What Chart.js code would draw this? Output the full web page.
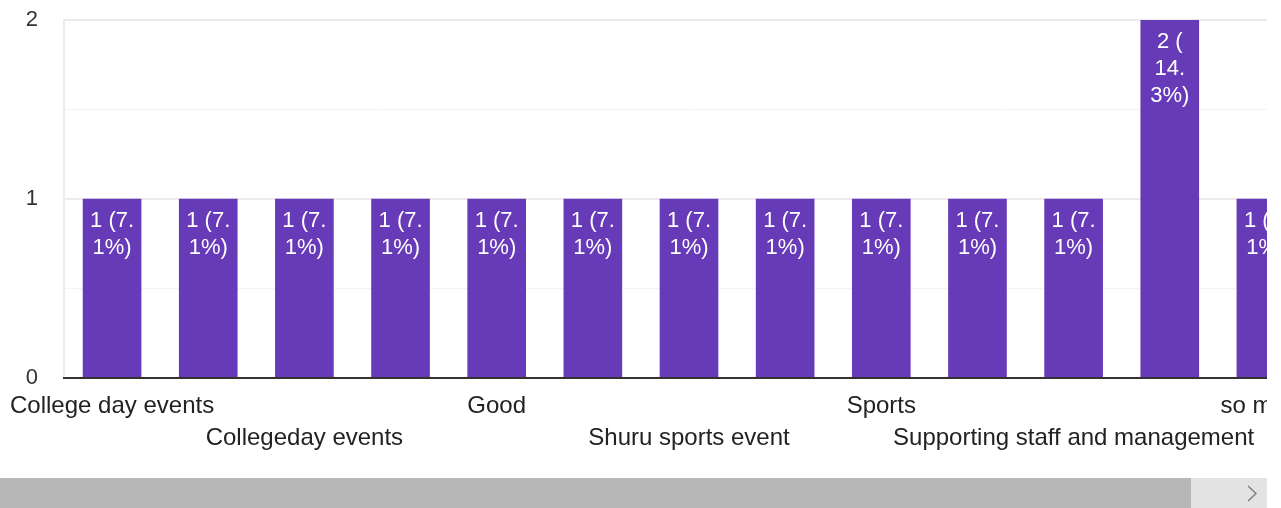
<!DOCTYPE html>
<html>
<head>
<meta charset="utf-8">
<script src="https://cdn.jsdelivr.net/npm/chart.js@4/dist/chart.umd.min.js"></script>
<style>
  html, body { margin: 0; padding: 0; background: #fff; }
  #wrap { position: absolute; left: 0; top: 0; width: 1267px; height: 478px; overflow: hidden; }
  #scroll { position: absolute; left: 0; top: 478px; width: 1267px; height: 30px; background: #e3e3e3; }
  #thumb { position: absolute; left: 0; top: 0; width: 1191px; height: 30px; background: #b7b7b7; }
  #arrow { position: absolute; left: 1245px; top: 7px; }
</style>
</head>
<body>
<div id="wrap"><canvas id="myChart" width="1330" height="478"></canvas></div>
<div id="scroll"><div id="thumb"></div>
  <svg id="arrow" width="14" height="18"><polyline points="3,1 11,8.5 3,16" fill="none" stroke="#7a7a7a" stroke-width="1.3"/></svg>
</div>
<script>
// categories (alphabetical, as in the form summary); odd ones are hidden by the axis
const categories = [
  'College day events', 'College events', 'Collegeday events', 'Fests',
  'Good', 'Nice', 'Shuru sports event', 'Shuru sports fest',
  'Sports', 'Sports events', 'Supporting staff and management', 'Workshops',
  'so much'
];
const counts = [1, 1, 1, 1, 1, 1, 1, 1, 1, 1, 1, 2, 1];
const yTicks = [0, 1, 2];

const total = counts.reduce((a, b) => a + b, 0);
const FONT = '"Liberation Sans", Arial, sans-serif';

// wrap "1 (7.1%)" the way the form chart does: break after space, "(" or "."
function wrapLabel(ctx, text, maxW) {
  const parts = text.match(/[^ (.]*[ (.]?/g).filter(p => p.length);
  const lines = [];
  let cur = '';
  parts.forEach(p => {
    const test = cur + p;
    if (cur && ctx.measureText(test.trimEnd()).width > maxW) {
      lines.push(cur.trimEnd());
      cur = p;
    } else {
      cur = test;
    }
  });
  if (cur) lines.push(cur.trimEnd());
  return lines;
}

const barLabels = {
  id: 'barLabels',
  afterDatasetsDraw(chart) {
    const ctx = chart.ctx;
    const meta = chart.getDatasetMeta(0);
    ctx.save();
    ctx.font = '22px ' + FONT;
    ctx.fillStyle = '#ffffff';
    ctx.textAlign = 'center';
    ctx.textBaseline = 'alphabetic';
    meta.data.forEach((bar, i) => {
      const v = counts[i];
      const txt = v + ' (' + (v / total * 100).toFixed(1) + '%)';
      const lines = wrapLabel(ctx, txt, bar.width - 10);
      lines.forEach((ln, k) => {
        ctx.fillText(ln, bar.x, bar.y + 28 + k * 27);
      });
    });
    ctx.restore();
  }
};

const ctx = document.getElementById('myChart').getContext('2d');
const chart = new Chart(ctx, {
  type: 'bar',
  data: {
    labels: categories,
    datasets: [{
      data: counts,
      backgroundColor: '#673ab7',
      barThickness: 58
    }]
  },
  options: {
    responsive: false,
    animation: false,
    devicePixelRatio: 1,
    layout: { padding: { top: 20, right: 16, left: 0, bottom: 0 } },
    plugins: { legend: { display: false }, tooltip: { enabled: false } },
    scales: {
      x: {
        grid: { display: false },
        border: { display: true, color: '#333333', width: 2, z: 1 },
        ticks: {
          autoSkip: false,
          maxRotation: 0,
          minRotation: 0,
          padding: 4,
          color: '#222222',
          font: { family: FONT, size: 24, lineHeight: 1.333 },
          callback: function (val, idx) {
            if (idx % 2 === 1) return '';
            const lab = categories[idx];
            return (idx % 4 === 0) ? [lab] : ['', lab];
          }
        },
        afterFit(scale) {
          scale.height = 100;
          scale.paddingLeft = 0;
          scale.paddingRight = 0;
        }
      },
      y: {
        min: 0,
        max: yTicks[yTicks.length - 1],
        border: { display: true, color: '#ebebeb', width: 2 },
        grid: {
          drawTicks: false,
          color: c => (c.tick && Number.isInteger(c.tick.value)) ? '#ebebeb' : '#f3f3f3',
          lineWidth: c => (c.tick && Number.isInteger(c.tick.value)) ? 2 : 1
        },
        ticks: {
          stepSize: 0.5,
          padding: 26,
          color: '#333333',
          font: { family: FONT, size: 22 },
          callback: v => yTicks.includes(v) ? String(v) : ''
        },
        afterFit(scale) {
          scale.width = 64;
          scale.paddingTop = 0;
          scale.paddingBottom = 0;
        }
      }
    }
  },
  plugins: [barLabels]
});
</script>
</body>
</html>
